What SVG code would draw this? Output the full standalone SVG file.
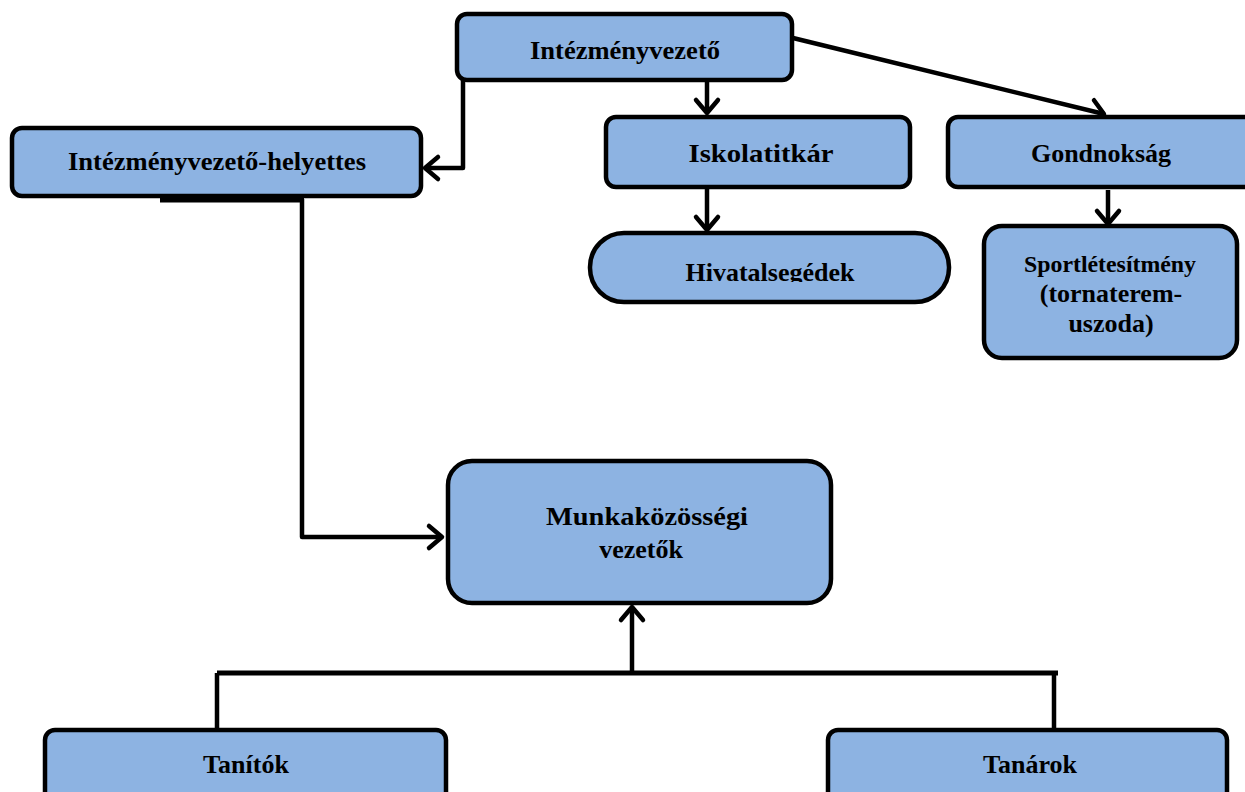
<svg xmlns="http://www.w3.org/2000/svg" width="1245" height="792" viewBox="0 0 1245 792">
<style>
.box{fill:#8db3e2;stroke:#000;stroke-width:4.5}
.t{font-family:"Liberation Serif","Times New Roman",serif;font-weight:bold;font-size:26px;fill:#000;text-anchor:middle}
.c{fill:none;stroke:#000;stroke-width:4.5;stroke-linejoin:round}
</style>
<defs>
<marker id="ah" markerUnits="userSpaceOnUse" viewBox="-2 -14 18 28" refX="13" refY="0" markerWidth="18" markerHeight="28" orient="auto" overflow="visible">
<path d="M0,-11 L13,0 L0,11" fill="none" stroke="#000" stroke-width="4.5" stroke-linecap="round" stroke-linejoin="round"/>
</marker>
<clipPath id="hclip"><rect x="588" y="230" width="364" height="52"/></clipPath>
</defs>
<rect width="1245" height="792" fill="#fff"/>
<g id="connectors">
<line x1="463" y1="79" x2="506" y2="79" stroke="#000" stroke-width="6"/>
<path class="c" d="M463,79 V168 H425" marker-end="url(#ah)"/>
<path class="c" d="M707,82 V113" marker-end="url(#ah)"/>
<path class="c" d="M793,38 L1104,114" marker-end="url(#ah)"/>
<line x1="160" y1="199" x2="304" y2="199" stroke="#000" stroke-width="7"/>
<path class="c" d="M302,199 V537 H442" marker-end="url(#ah)"/>
<path class="c" d="M707,189 V230" marker-end="url(#ah)"/>
<path class="c" d="M1108,190 V224" marker-end="url(#ah)"/>
<path class="c" d="M217,731 V673 M1054,731 V673"/>
<line x1="217" y1="673" x2="1058" y2="673" stroke="#000" stroke-width="5"/>
<path class="c" d="M632,673 V607" marker-end="url(#ah)"/>
</g>
<g id="n-intezmenyvezeto">
<rect class="box" x="457" y="14" width="335" height="66" rx="10"/>
<text class="t" x="625" y="59" textLength="190" lengthAdjust="spacingAndGlyphs">Intézményvezető</text>
</g>
<g id="n-helyettes">
<rect class="box" x="12" y="128" width="409" height="68" rx="10"/>
<text class="t" x="217" y="170" textLength="298" lengthAdjust="spacingAndGlyphs">Intézményvezető-helyettes</text>
</g>
<g id="n-iskolatitkar">
<rect class="box" x="606" y="117" width="304" height="70" rx="10"/>
<text class="t" x="761" y="162" textLength="145" lengthAdjust="spacingAndGlyphs">Iskolatitkár</text>
</g>
<g id="n-gondnoksag">
<rect class="box" x="948" y="117" width="310" height="70" rx="10"/>
<text class="t" x="1101" y="162">Gondnokság</text>
</g>
<g id="n-hivatalsegedek">
<rect class="box" x="590" y="233" width="359" height="69" rx="34"/>
<text class="t" x="770" y="281" clip-path="url(#hclip)">Hivatalsegédek</text>
</g>
<g id="n-sport">
<rect class="box" x="984" y="226" width="253" height="132" rx="18"/>
<text class="t" x="1110" y="272" style="font-size:23px" textLength="172" lengthAdjust="spacingAndGlyphs">Sportlétesítmény</text>
<text class="t" x="1111" y="302">(tornaterem-</text>
<text class="t" x="1111" y="332">uszoda)</text>
</g>
<g id="n-munkakozossegi">
<rect class="box" x="448" y="461" width="383" height="142" rx="24"/>
<text class="t" x="647" y="525" textLength="202" lengthAdjust="spacingAndGlyphs">Munkaközösségi</text>
<text class="t" x="641" y="558">vezetők</text>
</g>
<g id="n-tanitok">
<rect class="box" x="45" y="730" width="401" height="80" rx="10"/>
<text class="t" x="246" y="773">Tanítók</text>
</g>
<g id="n-tanarok">
<rect class="box" x="828" y="730" width="399" height="80" rx="10"/>
<text class="t" x="1030" y="773">Tanárok</text>
</g>
</svg>
